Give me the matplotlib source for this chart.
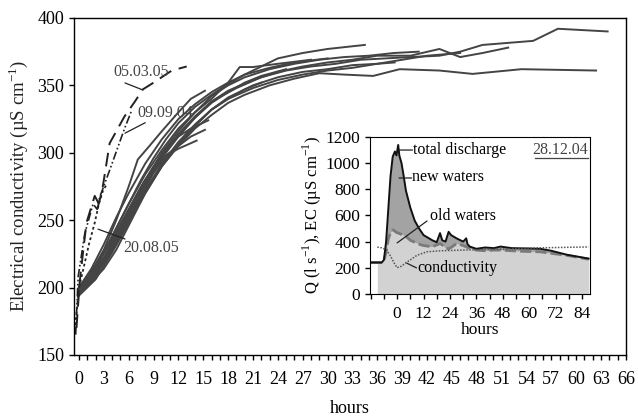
import numpy as np
import matplotlib
matplotlib.use("Agg")
import matplotlib.pyplot as plt
from matplotlib.ticker import MultipleLocator

plt.rcParams['font.family'] = ['Liberation Serif', 'DejaVu Serif']
plt.rcParams['mathtext.fontset'] = 'custom'
plt.rcParams['mathtext.rm'] = 'Liberation Serif'

# conductivity curves of the single events (hours, uS/cm)
solid_h = [
    [0, 1.5, 3, 4.5, 6, 7.1, 8.5, 10, 12, 13.5, 15.2],
    [0, 1.5, 3, 4.5, 6, 7.5, 9, 10.5, 12, 13.5, 15.6],
    [0, 1.5, 3, 4.5, 6, 7.5, 9, 10.5, 12, 13.5, 15.2],
    [0, 1.5, 3, 4.5, 6, 7.5, 9, 10.5, 12, 14.2],
    [0, 1.5, 3, 4.5, 6, 7.5, 9, 10.5, 12, 14, 16, 18, 20, 22, 24, 27, 30, 34.5],
    [0, 1.5, 3, 4.5, 6, 8, 10, 12, 14, 16, 18, 21, 24, 27, 30, 33, 36, 38.1],
    [0, 2, 4, 6, 8, 10, 12, 14, 16, 18, 21, 24, 27, 30, 33, 36, 40, 43.5, 46, 48.7, 51.8],
    [0, 2, 4, 6, 8, 10, 12, 14, 16, 19, 22, 25, 28, 31, 34, 37, 40, 43.5, 46, 48.7, 54.8, 57.8, 63.8],
    [0, 2, 4, 6, 8, 10, 12, 14, 16, 18, 20, 23, 26, 29, 32, 35.5, 38.7, 43.5, 47.5, 53.4, 62.4],
    [0, 1.5, 3, 4.5, 6, 8, 10, 12, 14, 16, 18, 20, 23, 26, 30],
    [0, 1.5, 3, 4.5, 6, 8, 10, 12, 14, 16, 18, 19.4, 21, 24, 28],
    [0, 2, 4, 6, 8, 10, 12, 14, 16, 18, 21, 24, 27, 30, 33, 36, 39, 42, 46],
    [0, 2, 4, 6, 8, 10, 12, 14, 16, 18, 20, 22, 25],
    [0, 1.5, 3, 4.5, 6, 8, 10, 12, 14, 16, 18, 20, 22],
    [0, 2, 4, 6, 8, 10, 12, 14, 16, 18, 20, 23, 26, 29, 32, 35, 38, 41],
]
solid_ec = [
    [199, 212, 228, 250, 275, 295, 305, 316, 330, 340, 346],
    [198, 208, 222, 240, 258, 275, 290, 303, 312, 318, 324],
    [197, 206, 218, 232, 250, 268, 285, 298, 305, 312, 317],
    [200, 210, 222, 236, 252, 270, 288, 298, 303, 309],
    [200, 212, 226, 244, 262, 280, 296, 310, 322, 334, 343, 351, 358, 364, 370, 374, 377, 380],
    [197, 207, 220, 236, 252, 272, 290, 306, 320, 332, 341, 350, 356, 360, 362, 365, 366, 367],
    [196, 210, 232, 256, 278, 298, 314, 327, 338, 346, 354, 360, 364, 367, 369, 372, 372, 377, 371, 374, 378],
    [195, 208, 230, 254, 276, 296, 312, 326, 338, 348, 356, 361, 364, 366, 369, 370, 371, 372, 375, 380, 383, 392, 390],
    [194, 206, 226, 248, 270, 290, 305, 318, 328, 337, 343, 350, 355, 359, 358, 357, 362, 361, 358.5, 362, 361],
    [200, 214, 232, 252, 270, 292, 310, 325, 336, 345, 352, 358, 363, 367, 370],
    [198, 210, 226, 244, 262, 284, 302, 318, 330, 340, 352, 363.6, 363.6, 366, 369],
    [197, 209, 228, 250, 272, 292, 308, 321, 332, 340, 348, 354, 358, 361, 363, 366, 369, 372, 374],
    [199, 214, 236, 258, 280, 298, 313, 326, 337, 345, 352, 357, 362],
    [196, 204, 214, 228, 246, 270, 290, 306, 320, 332, 340, 347, 352],
    [198, 211, 232, 256, 279, 300, 316, 330, 342, 350, 356, 362, 366, 369, 371, 372, 374, 375],
]

h_050305 = [-0.3, 0.1, 0.9, 1.9, 2.4, 2.2, 2.8, 3.7, 5.5, 6.75, 7.7, 9, 11.2, 13]
ec_050305 = [170, 205, 248, 268, 262, 258, 272, 307, 327, 338, 347, 352, 361, 364]
h_090904 = [-0.4, -0.1, 0.7, 1.7, 2.2, 2.5, 3.7, 5.5, 6.4]
ec_090904 = [165, 208, 240, 262, 258, 267, 287, 318, 332]
h_200805 = [-0.5, 0, 0.5, 1.2, 1.9, 2.4, 2.9, 3.3]
ec_200805 = [168, 200, 213, 232, 248, 262, 272, 276]

# hydrograph separation of the 28.12.04 event
ins_h = [-12, -9, -7, -6, -5, -4, -3, -2, -1, -0.3, 0.5, 1, 2, 3, 4, 6, 8, 10, 12, 14, 16, 18,
         19.5, 20.5, 22, 23.4, 24.5, 27, 30, 31.4, 32, 33, 36, 40, 44, 47, 52, 58, 65, 70, 77, 82, 87]
total_q = [240, 240, 240, 260, 400, 650, 900, 1050, 1090, 1060, 1140, 1060, 1000, 900, 790, 660,
           560, 500, 450, 430, 410, 395, 465, 410, 400, 475, 450, 425, 400, 425, 380, 362, 345,
           355, 350, 362, 350, 348, 345, 330, 300, 285, 270]
old_q = [240, 240, 240, 250, 320, 420, 470, 490, 480, 470, 465, 462, 455, 448, 440, 410, 395, 380,
         370, 365, 360, 375, 385, 375, 350, 345, 355, 385, 370, 360, 355, 350, 335, 330, 335,
         335, 330, 325, 322, 310, 295, 280, 265]
cond_h = [-9, -7, -5, -3, -1.5, 0, 2, 4, 6, 9, 13.5, 20, 30, 40, 50, 60, 70, 80, 87]
cond_ec = [358, 352, 338, 290, 240, 200, 212, 238, 260, 295, 322, 330, 335, 340, 343, 350, 354, 357, 359]

fig = plt.figure(figsize=(6.38, 4.18), dpi=100)
ax = fig.add_axes([0.116, 0.151, 0.865, 0.806])

for h, ec in zip(solid_h, solid_ec):
    ax.plot(h, ec, color='#444444', lw=1.4)
ax.plot(h_050305, ec_050305, color='#222222', lw=1.4, dashes=(7, 4))
ax.plot(h_090904, ec_090904, color='#222222', lw=1.2, dashes=(5, 1.5, 1, 1.5, 1, 1.5))
ax.plot(h_200805, ec_200805, color='#222222', lw=1.3, dashes=(1.5, 1.5))

ax.set_xlim(-0.6, 66)
ax.set_ylim(150, 400)
ax.xaxis.set_major_locator(MultipleLocator(3))
ax.xaxis.set_minor_locator(MultipleLocator(1))
ax.yaxis.set_major_locator(MultipleLocator(50))
ax.tick_params(axis='both', which='both', direction='out', length=3.5, width=1, labelsize=13)
ax.tick_params(axis='x', pad=8)
ax.set_xlabel('hours', fontsize=13, labelpad=9)
ax.set_ylabel(r'Electrical conductivity (µS cm$^{\mathregular{-1}}$)', fontsize=13.5, labelpad=5,
              color='#222222')
for s in ax.spines.values():
    s.set_linewidth(1)

lead = dict(arrowstyle='-', color='#222222', lw=0.9, shrinkA=0, shrinkB=0)
ax.text(4.1, 360, '05.03.05', fontsize=11.5, va='center', color='#444444')
ax.annotate('', xy=(7.7, 346.6), xytext=(5.55, 351.8), arrowprops=lead)
ax.text(7.0, 329.5, '09.09.04', fontsize=11.5, va='center', color='#444444')
ax.annotate('', xy=(5.55, 314.5), xytext=(8.0, 322.3), arrowprops=lead)
ax.text(5.3, 229.4, '20.08.05', fontsize=11.5, va='center', color='#444444')
ax.annotate('', xy=(2.3, 243.3), xytext=(5.55, 236), arrowprops=lead)

# inset: discharge components
ins = fig.add_axes([0.58, 0.297, 0.345, 0.375])
ih = np.array(ins_h)
ins.fill_between(ih, 0, old_q, where=ih >= -9, color='#d2d2d2', lw=0)
ins.fill_between(ih, old_q, total_q, color='#a3a3a3', lw=0)
ins.plot(ih, old_q, color='#7a7a7a', lw=2, dashes=(4, 1.5))
ins.plot(ih, total_q, color='#111111', lw=1.4)
ins.plot(cond_h, cond_ec, color='#555555', lw=1.1, dashes=(1, 1))

ins.set_xlim(-12.3, 87.7)
ins.set_ylim(0, 1200)
ins.set_xticks(range(0, 85, 12))
ins.xaxis.set_minor_locator(MultipleLocator(6))
ins.yaxis.set_major_locator(MultipleLocator(200))
ins.tick_params(axis='both', which='both', direction='out', length=3.5, width=1, labelsize=12.5)
ins.tick_params(axis='x', pad=5)
ins.set_xlabel('hours', fontsize=12.5, labelpad=0)
ins.set_ylabel(r'Q (l s$^{\mathregular{-1}}$), EC (µS cm$^{\mathregular{-1}}$)', fontsize=12, labelpad=1)

ins.text(7.3, 1101, 'total discharge', fontsize=11.5, va='center')
ins.annotate('', xy=(0.9, 1101), xytext=(7.0, 1101), arrowprops=lead)
ins.text(6.8, 894, 'new waters', fontsize=11.5, va='center')
ins.annotate('', xy=(0.9, 887), xytext=(6.6, 887), arrowprops=lead)
ins.text(15, 596, 'old waters', fontsize=11.5, va='center')
ins.annotate('', xy=(0, 390), xytext=(13.6, 558), arrowprops=lead)
ins.text(9, 201, 'conductivity', fontsize=11.5, va='center')
ins.annotate('', xy=(4.4, 235), xytext=(8.8, 199), arrowprops=lead)
ins.text(86.8, 1100, '28.12.04', fontsize=11.5, va='center', ha='right', color='#444444')
ins.plot([62.5, 86.8], [1040, 1040], color='#444444', lw=0.9)

fig.savefig('out.png', dpi=100)
